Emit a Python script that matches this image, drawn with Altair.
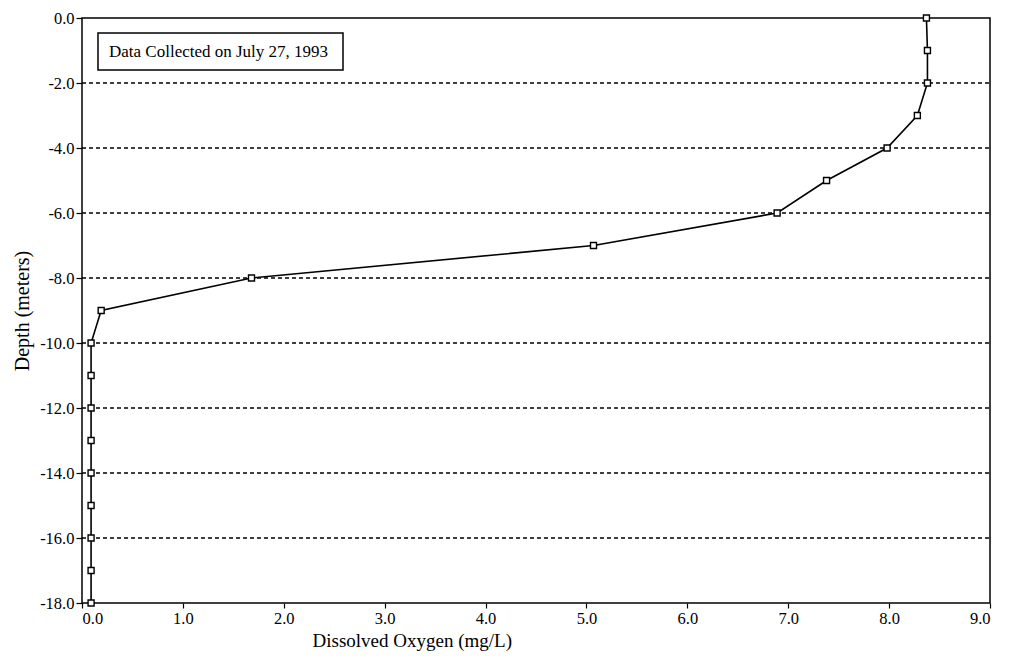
import altair as alt
import pandas as pd

depth = [0, -1, -2, -3, -4, -5, -6, -7, -8, -9, -10, -11, -12, -13, -14, -15, -16, -17, -18]
oxygen = [8.37, 8.38, 8.38, 8.28, 7.98, 7.38, 6.89, 5.07, 1.68, 0.19,
          0.09, 0.09, 0.09, 0.09, 0.09, 0.09, 0.09, 0.09, 0.09]
x_ticks = [0, 1, 2, 3, 4, 5, 6, 7, 8, 9]
y_ticks = [0, -2, -4, -6, -8, -10, -12, -14, -16, -18]
grid_levels = [-2, -4, -6, -8, -10, -12, -14, -16]
note = "Data Collected on July 27, 1993"

df = pd.DataFrame({"depth": depth, "oxygen": oxygen, "order": list(range(len(depth)))})
grid_df = pd.DataFrame({"g": grid_levels})

FONT = "Liberation Serif"

xscale = alt.Scale(domain=[0, 9], nice=False, zero=False)
yscale = alt.Scale(domain=[-18, 0], nice=False, zero=False)

xaxis = alt.Axis(values=x_ticks, format=".1f", grid=False, domain=False,
                 tickColor="black", tickSize=5, tickWidth=1.2,
                 labelFont=FONT, labelFontSize=16.5, labelColor="black", labelPadding=2,
                 title="Dissolved Oxygen (mg/L)", titleFont=FONT, titleFontSize=19,
                 titleFontWeight="normal", titleColor="black",
                 titleX=230, titleY=43, titleAlign="left", titleBaseline="alphabetic")
yaxis = alt.Axis(values=y_ticks, grid=False, domain=False,
                 labelExpr="(datum.value < 0 ? '-' : '') + format(abs(datum.value), '.1f')",
                 tickColor="black", tickSize=6, tickWidth=1.2,
                 labelFont=FONT, labelFontSize=16.5, labelColor="black", labelPadding=2,
                 title="Depth (meters)", titleFont=FONT, titleFontSize=20,
                 titleFontWeight="normal", titleColor="black", titlePadding=7)

grid = alt.Chart(grid_df).mark_rule(color="black", strokeWidth=1.5, strokeDash=[4, 3]).encode(
    y=alt.Y("g:Q", scale=yscale, axis=yaxis),
    x=alt.value(0), x2=alt.value(908)
)

line = alt.Chart(df).mark_line(color="black", strokeWidth=1.6).encode(
    x=alt.X("oxygen:Q", scale=xscale, axis=xaxis),
    y=alt.Y("depth:Q", scale=yscale, axis=yaxis),
    order="order:Q"
)

pts = alt.Chart(df).mark_point(shape="square", size=36, filled=True, fill="white",
                               stroke="black", strokeWidth=1.4, opacity=1).encode(
    x=alt.X("oxygen:Q", scale=xscale),
    y=alt.Y("depth:Q", scale=yscale)
)

box = alt.Chart(pd.DataFrame({"t": [note]})).mark_rect(
    fill="white", stroke="black", strokeWidth=1.5).encode(
    x=alt.value(16), x2=alt.value(261), y=alt.value(15), y2=alt.value(52)
)
txt = alt.Chart(pd.DataFrame({"t": [note]})).mark_text(
    font=FONT, fontSize=17, color="black", align="left", baseline="middle").encode(
    x=alt.value(27), y=alt.value(34), text="t:N"
)

chart = alt.layer(grid, line, pts, box, txt).properties(
    width=908, height=585,
    background="white",
    autosize=alt.AutoSizeParams(type="none"),
    padding={"left": 74, "top": 10, "right": 12, "bottom": 52},
).configure_view(stroke="black", strokeWidth=1.5)

chart.save("out.html", embed_options={"renderer": "svg", "actions": False})
